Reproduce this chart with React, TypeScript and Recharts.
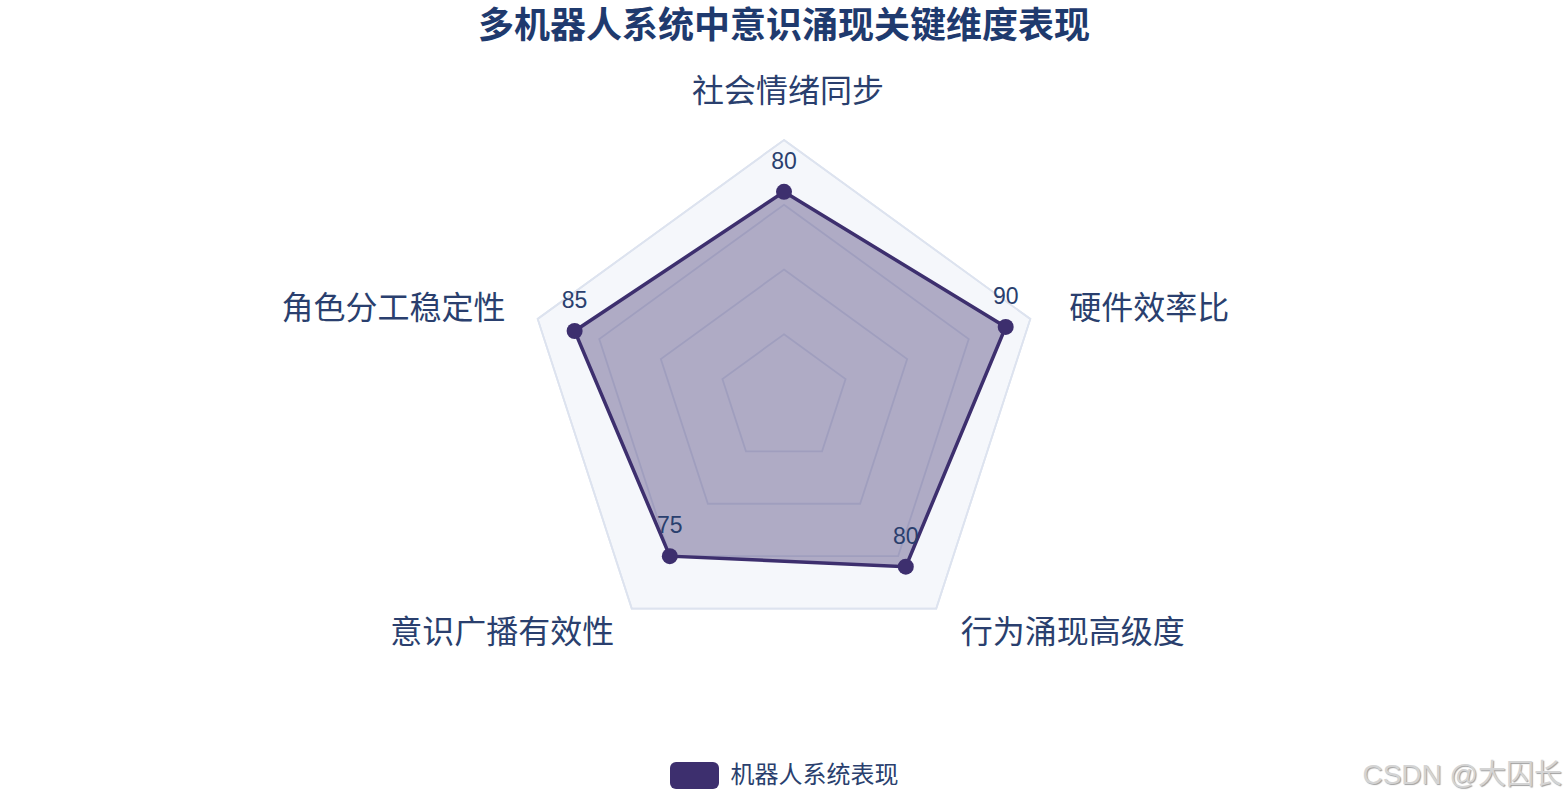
import React from "react";
import {
  RadarChart,
  Radar,
  PolarGrid,
  PolarAngleAxis,
  PolarRadiusAxis,
  Legend,
} from "recharts";

const DIMENSIONS = ["社会情绪同步", "硬件效率比", "行为涌现高级度", "意识广播有效性", "角色分工稳定性"];
const ROBOT_SCORES = [80, 90, 80, 75, 85];
const SCALE_MAX = 100;
const GRID_STEPS = [25, 50, 75, 100];

const WIDTH = 1568;
const HEIGHT = 800;
const CX = 784;
const CY = 399;
const OUTER_R = 259;
const LABEL_R = 299;

const LINE = "#3d2f6e";
const TEXT = "#2a3f6e";
const GRID = "#dde3ef";
const BG = "#f5f7fb";
const FONT = '"Liberation Sans", Arial, "Noto Sans CJK SC", sans-serif';

const data = DIMENSIONS.map((d, i) => ({ dimension: d, score: ROBOT_SCORES[i] }));

function AxisTick(props: any) {
  const { x, y, payload } = props;
  const dx = x - CX;
  const dy = y - CY;
  const len = Math.hypot(dx, dy) || 1;
  const ux = dx / len;
  const uy = dy / len;
  const anchor = Math.abs(ux) < 0.01 ? "middle" : ux > 0 ? "start" : "end";
  // small nudges so the labels sit like the plotly original
  const nx = Math.abs(ux) < 0.01 ? 4 : ux < 0 ? 6 : 1;
  const ny = Math.abs(ux) > 0.9 ? 1 : -9;
  return (
    <text
      x={CX + ux * LABEL_R + nx}
      y={CY + uy * LABEL_R + ny}
      textAnchor={anchor}
      dominantBaseline="central"
      fontSize={32}
      fontFamily={FONT}
      fill={TEXT}
    >
      {payload.value}
    </text>
  );
}

function ScoreDot(props: any) {
  const { cx, cy, payload, value } = props;
  const v = payload?.payload?.score ?? payload?.score ?? (typeof value === "number" ? value : payload?.value);
  return (
    <g>
      <circle cx={cx} cy={cy} r={8} fill={LINE} />
      <text
        x={cx}
        y={cy - 31}
        textAnchor="middle"
        dominantBaseline="central"
        fontSize={23}
        fontFamily={FONT}
        fill={TEXT}
      >
        {v}
      </text>
    </g>
  );
}

export default function App() {
  return (
    <div style={{ position: "relative", width: WIDTH, height: HEIGHT, fontFamily: FONT, background: "#fff" }}>
      <style>{"body{margin:0}"}</style>
      <div
        style={{
          position: "absolute",
          top: 4,
          left: 0,
          width: WIDTH,
          textAlign: "center",
          fontSize: 36,
          lineHeight: "44px",
          fontWeight: 700,
          color: "#1f3a6e",
        }}
      >
        多机器人系统中意识涌现关键维度表现
      </div>
      <RadarChart
        width={WIDTH}
        height={HEIGHT}
        data={data}
        cx={CX}
        cy={CY}
        outerRadius={OUTER_R}
        margin={{ top: 0, right: 0, bottom: 0, left: 0 }}
      >
        <PolarGrid
          gridType="polygon"
          radialLines={false}
          stroke={GRID}
          strokeWidth={1.8}
          fill={BG}
          fillOpacity={1}
          polarRadius={GRID_STEPS.map((v) => (v / SCALE_MAX) * OUTER_R)}
        />
        <PolarAngleAxis dataKey="dimension" tick={<AxisTick />} tickLine={false} axisLine={false} />
        <PolarRadiusAxis domain={[0, SCALE_MAX]} tick={false} axisLine={false} tickCount={5} />
        <Radar
          name="机器人系统表现"
          dataKey="score"
          stroke={LINE}
          strokeWidth={3.5}
          fill={LINE}
          fillOpacity={0.38}
          dot={<ScoreDot />}
          isAnimationActive={false}
        />
        <Legend
          verticalAlign="bottom"
          wrapperStyle={{ bottom: 10, left: 0, width: WIDTH }}
          content={() => (
            <div style={{ display: "flex", justifyContent: "center", alignItems: "center", gap: 12 }}>
              <span
                style={{ display: "inline-block", width: 49, height: 27, borderRadius: 6, background: LINE }}
              />
              <span style={{ fontSize: 24, color: TEXT, lineHeight: "30px" }}>机器人系统表现</span>
            </div>
          )}
        />
      </RadarChart>
      <div
        style={{
          position: "absolute",
          right: 6,
          bottom: 8,
          fontSize: 28,
          color: "#d4d4d4",
          textShadow: "1px 1px 1px #a0a0a0",
        }}
      >
        CSDN @大囚长
      </div>
    </div>
  );
}
